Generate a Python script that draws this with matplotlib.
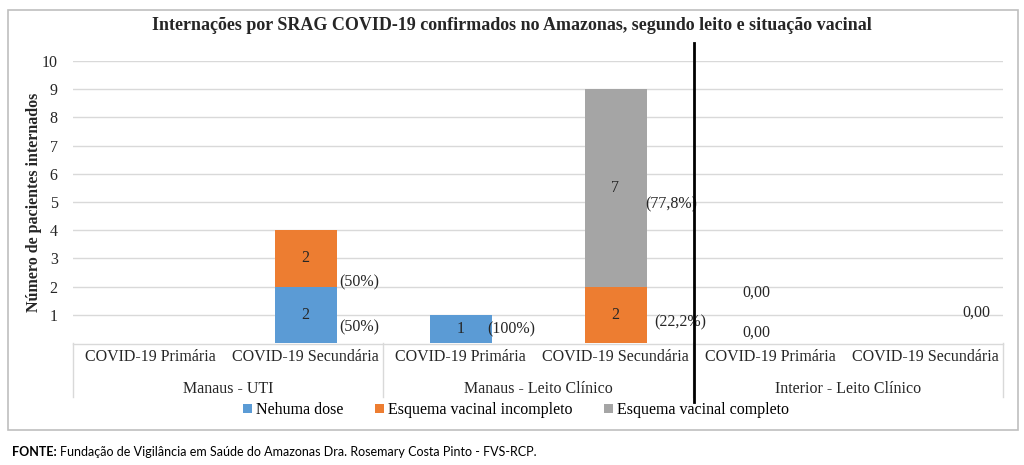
import matplotlib
matplotlib.use("Agg")
import matplotlib.pyplot as plt
from matplotlib.patches import Rectangle, Patch
from matplotlib.lines import Line2D

# ---- data ----
categories = ["COVID-19 Primária", "COVID-19 Secundária",
              "COVID-19 Primária", "COVID-19 Secundária",
              "COVID-19 Primária", "COVID-19 Secundária"]
groups = ["Manaus - UTI", "Manaus - Leito Clínico", "Interior - Leito Clínico"]
nenhuma_dose = [0, 2, 1, 0, 0, 0]
incompleto = [0, 2, 0, 2, 0, 0]
completo = [0, 0, 0, 7, 0, 0]
series_names = ["Nehuma dose", "Esquema vacinal incompleto", "Esquema vacinal completo"]
yticks = [1, 2, 3, 4, 5, 6, 7, 8, 9, 10]

colors = ["#5B9BD5", "#ED7D31", "#A5A5A5"]
W, H = 1024, 465
serif = ["Liberation Serif", "DejaVu Serif"]

fig = plt.figure(figsize=(W / 100, H / 100), dpi=100)
fig.patch.set_facecolor("white")

def fx(px): return px / W
def fy(py): return 1 - py / H

ax = fig.add_axes([fx(73), fy(343), fx(1003) - fx(73), fy(61) - fy(343)])
x = list(range(len(categories)))
series = [nenhuma_dose, incompleto, completo]
bottom = [0] * len(x)
bw = 0.4
for s, c, name in zip(series, colors, series_names):
    ax.bar(x, s, bw, bottom=bottom, color=c, label=name, zorder=3)
    bottom = [b + v for b, v in zip(bottom, s)]

ax.set_xlim(-0.5, len(x) - 0.5)
ax.set_ylim(0, 10)
ax.set_yticks(yticks)
ax.set_yticklabels([str(t) for t in yticks], family=serif, fontsize=11.5, color="#262626")
ax.tick_params(axis="y", length=0, pad=11)
ax.tick_params(axis="x", length=0, labelbottom=False)
ax.grid(axis="y", color="#d9d9d9", lw=1, zorder=0)
for sp in ax.spines.values():
    sp.set_visible(False)
ax.set_ylabel("Número de pacientes internados", family=serif, fontsize=11.5,
              fontweight="bold", color="#262626")
ax.yaxis.set_label_coords(-0.033, 0.5)

# value labels inside segments
totals = [a + b + c for a, b, c in zip(nenhuma_dose, incompleto, completo)]
for i in x:
    base = 0
    for s in series:
        v = s[i]
        if v > 0:
            ax.text(i, base + v / 2, f"{v}", ha="center", va="center",
                    family=serif, fontsize=11.5, color="#262626", zorder=4)
        base += v

def pct(v, t):
    p = 100 * v / t
    s = f"{p:.1f}".replace(".", ",")
    if s.endswith(",0"):
        s = s[:-2]
    return f"({s}%)"

# percentage labels (position offsets in data units)
pct_labels = [
    (1, nenhuma_dose, 0.02, 0.55),
    (1, incompleto, 0.02, 2.15),
    (2, nenhuma_dose, -0.03, 0.47),
    (3, incompleto, 0.05, 0.74),
    (3, completo, -0.01, 4.9),
]
for i, s, dx, yy in pct_labels:
    ax.text(i + bw / 2 + dx, yy, pct(s[i], totals[i]), ha="left", va="center",
            family=serif, fontsize=11.5, color="#262626", zorder=4)

# zero labels for Interior
for i, yy, dx in [(4, 1.78, -0.09), (4, 0.35, -0.09), (5, 1.06, 0.33)]:
    ax.text(i + dx, yy, f"{totals[i]:.2f}".replace(".", ","), ha="center",
            va="center", family=serif, fontsize=11.5, color="#262626", zorder=4)

# multi-level category axis
trans = ax.get_xaxis_transform()
for i, cat in enumerate(categories):
    ax.text(i, -0.05, cat, transform=trans, ha="center", va="center",
            family=serif, fontsize=11.5, color="#262626", clip_on=False)
for g, name in enumerate(groups):
    ax.text(2 * g + 0.5, -0.162, name, transform=trans, ha="center", va="center",
            family=serif, fontsize=11.5, color="#262626", clip_on=False)

grid_c = "#d9d9d9"
fig.add_artist(Line2D([fx(73), fx(1003)], [fy(343.5), fy(343.5)], color=grid_c, lw=1))
for px in [73, 383, 693, 1003]:
    fig.add_artist(Line2D([fx(px), fx(px)], [fy(343), fy(397)], color=grid_c, lw=1))

# vertical black divider
fig.add_artist(Line2D([fx(694), fx(694)], [fy(43), fy(402)], color="black", lw=2, zorder=10))

# title
fig.text(fx(512), fy(26), "Internações por SRAG COVID-19 confirmados no Amazonas, segundo leito e situação vacinal",
         ha="center", va="center", family=serif, fontsize=13, fontweight="bold", color="#262626")

# legend
handles = [Patch(facecolor=c, edgecolor="none") for c in colors]
fig.legend(handles, series_names, loc="center", bbox_to_anchor=(fx(516), fy(410)),
           ncol=3, frameon=False, prop={"family": serif, "size": 11.5},
           handlelength=0.55, handleheight=0.55, handletextpad=0.25, columnspacing=2.0)

# outer border
fig.add_artist(Rectangle((fx(8), fy(430)), fx(1018) - fx(8), fy(10) - fy(430),
                         fill=False, edgecolor="#bfbfbf", lw=1.2))

# source
t = fig.text(fx(12), fy(452), "FONTE:", ha="left", va="center", fontsize=9, family="Lato",
             fontweight="bold", color="black")
fig.canvas.draw()
bb = t.get_window_extent()
fig.text(bb.x1 / W + fx(3), fy(452), "Fundação de Vigilância em Saúde do Amazonas Dra. Rosemary Costa Pinto - FVS-RCP.",
         ha="left", va="center", fontsize=9, family="Lato", color="black")

fig.savefig("out.png", dpi=100)
